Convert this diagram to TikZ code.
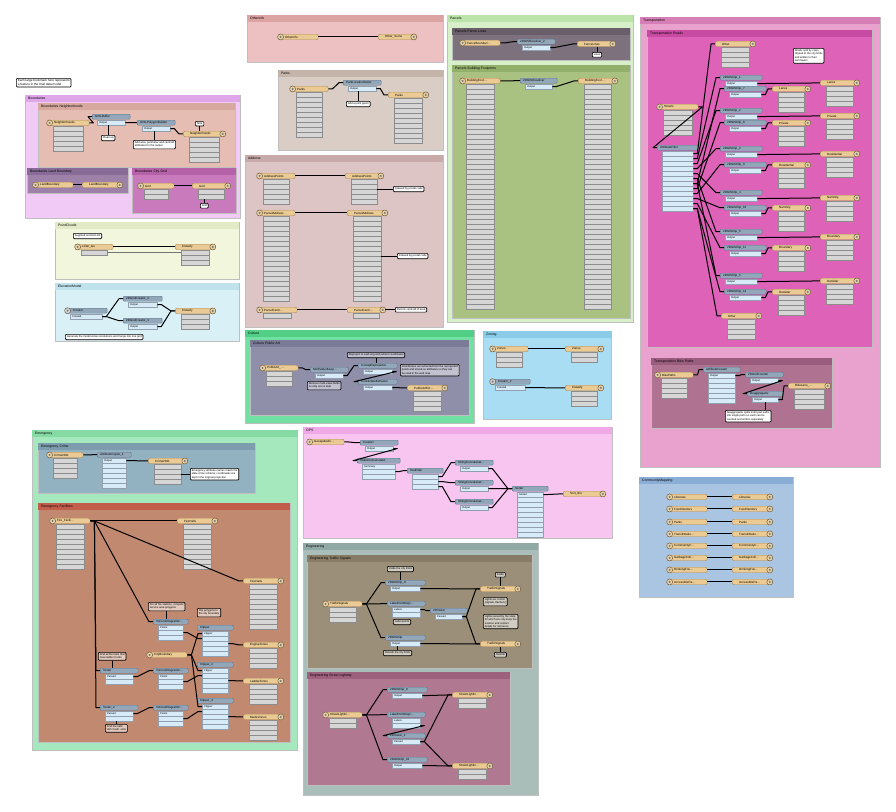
\documentclass[tikz,border=0pt]{standalone}
\usepackage{fontspec}
\setmainfont{Liberation Sans}
\usetikzlibrary{positioning,calc}

% canvas parts
\definecolor{fthead}{HTML}{EBCB93}
\definecolor{ftedge}{HTML}{A98757}
\definecolor{ftcapfill}{HTML}{E6D2A8}
\definecolor{xfhead}{HTML}{93A7BA}
\definecolor{xfedge}{HTML}{62768C}
\definecolor{portfill}{HTML}{D6EAF8}
\definecolor{attrfill}{HTML}{D6D6D6}
% bookmark colours
\definecolor{bndFill}{HTML}{F1CAF5}  \definecolor{bndHead}{HTML}{E0A6EA}
\definecolor{nbhFill}{HTML}{E5BDB3}  \definecolor{nbhHead}{HTML}{D6A89E}
\definecolor{landFill}{HTML}{9D81A9} \definecolor{landHead}{HTML}{886B97}
\definecolor{gridFill}{HTML}{C97ABD} \definecolor{gridHead}{HTML}{B562A8}
\definecolor{pcFill}{HTML}{F2F6DD}   \definecolor{pcHead}{HTML}{E3EBC6}
\definecolor{elevFill}{HTML}{D9F0F6} \definecolor{elevHead}{HTML}{BFE2EC}
\definecolor{othFill}{HTML}{EDC1C1}  \definecolor{othHead}{HTML}{DCA3A3}
\definecolor{prkFill}{HTML}{D9CDC5}  \definecolor{prkHead}{HTML}{C5B4A9}
\definecolor{adrFill}{HTML}{DDC5C5}  \definecolor{adrHead}{HTML}{C9AAAA}
\definecolor{parFill}{HTML}{D7F0C9}  \definecolor{parHead}{HTML}{BCE3A9}
\definecolor{fenFill}{HTML}{7D717D}  \definecolor{fenHead}{HTML}{6A5E6B}
\definecolor{bldFill}{HTML}{A9C181}  \definecolor{bldHead}{HTML}{93AF6C}
\definecolor{trnFill}{HTML}{E9A2CD}  \definecolor{trnHead}{HTML}{D67FB6}
\definecolor{rdFill}{HTML}{DF62B9}   \definecolor{rdHead}{HTML}{C84BA3}
\definecolor{bkFill}{HTML}{B07291}   \definecolor{bkHead}{HTML}{9B5D7E}
\definecolor{culFill}{HTML}{72E0A2}  \definecolor{culHead}{HTML}{52CF87}
\definecolor{artFill}{HTML}{8F8FA9}  \definecolor{artHead}{HTML}{7B7B97}
\definecolor{zonFill}{HTML}{A9DDF4}  \definecolor{zonHead}{HTML}{8ACCE7}
\definecolor{emgFill}{HTML}{A6E8BD}  \definecolor{emgHead}{HTML}{86DBA4}
\definecolor{crFill}{HTML}{92B1C1}   \definecolor{crHead}{HTML}{7D9DAF}
\definecolor{facFill}{HTML}{C1896F}  \definecolor{facHead}{HTML}{C45E4C}
\definecolor{opsFill}{HTML}{F8C5F0}  \definecolor{opsHead}{HTML}{EFA9E6}
\definecolor{engFill}{HTML}{A9BDB9}  \definecolor{engHead}{HTML}{91A9A5}
\definecolor{tsFill}{HTML}{9B8F79}   \definecolor{tsHead}{HTML}{887C66}
\definecolor{slFill}{HTML}{B17991}   \definecolor{slHead}{HTML}{9E617D}
\definecolor{cmFill}{HTML}{A9C5E1}   \definecolor{cmHead}{HTML}{89ADD4}

\tikzstyle{bmark} = [
    rectangle,
    draw=black!25,
    line width=0.4pt,
    inner sep=0pt,
    anchor=north west
]
\tikzstyle{bmhead} = [
    rectangle,
    inner ysep=0pt,
    inner xsep=3pt,
    minimum height=7pt,
    anchor=north west,
    align=left,
    font=\fontsize{3.4}{4}\selectfont
]
\tikzstyle{ftbar} = [
    rectangle,
    rounded corners=2pt,
    draw=ftedge,
    fill=fthead,
    line width=0.4pt,
    minimum height=5.5pt,
    inner ysep=0pt,
    inner xsep=7pt,
    anchor=north west,
    align=left,
    font=\fontsize{3}{3.4}\selectfont
]
\tikzstyle{ftcap} = [
    circle,
    draw=ftedge!70!black,
    fill=ftcapfill,
    line width=0.5pt,
    minimum size=6pt,
    inner sep=0pt,
    path picture={\fill[black!55] (path picture bounding box.center) circle (1.1pt);}
]
\tikzstyle{xfbar} = [
    rectangle,
    rounded corners=1pt,
    draw=xfedge,
    fill=xfhead,
    line width=0.4pt,
    minimum height=5pt,
    inner ysep=0pt,
    inner xsep=3pt,
    anchor=north west,
    align=left,
    font=\fontsize{3}{3.4}\selectfont
]
\tikzstyle{attrbox} = [
    rectangle,
    draw=black!45,
    fill=attrfill,
    line width=0.3pt,
    minimum height=5pt,
    inner sep=0pt,
    anchor=north west
]
\tikzstyle{portbox} = [
    rectangle,
    draw=xfedge!70,
    fill=portfill,
    line width=0.3pt,
    minimum height=5pt,
    inner ysep=0pt,
    inner xsep=2pt,
    anchor=north west,
    align=left,
    font=\fontsize{2.6}{3}\selectfont
]
\tikzstyle{note} = [
    rectangle,
    rounded corners=1pt,
    draw=black,
    line width=0.7pt,
    fill=white,
    inner sep=1.4pt,
    align=left,
    anchor=north west,
    font=\fontsize{2.7}{3.2}\selectfont
]
\tikzstyle{noteline} = [
    line width=0.7pt,
    draw=black
]
\tikzstyle{wire} = [
    line width=1pt,
    draw=black,
    line join=round,
    to path={-- ++(4,0) -- ([xshift=-4pt]\tikztotarget) -- (\tikztotarget)}
]

% bookmark: name, x, y, width, height, label, fill, head
\newcommand{\fmemark}[8]{%
  \pgfmathsetlengthmacro\bmw{#4-6}
  \node[bmark, fill=#7, minimum width=#4pt, minimum height=#5pt] (#1) at (#2,#3) {};
  \node[bmhead, fill=#8, text width=\bmw] (#1-head) at (#1.north west) {#6};
}
% attribute rows under a feature type: name, width, rows
\newcommand{\ftattrs}[3]{%
  \ifnum#3>0
    \pgfmathsetlengthmacro\attrw{#2-12}
    \foreach \k in {1,...,#3}
      \node[attrbox, minimum width=\attrw] (#1-a\k) at ([shift={(6,{5*(\k-1)})}]#1.south west) {};
  \fi
}
% reader / writer feature types: [width]{name}{x,y}{label}{rows}
\newcommand{\ftreader}[5][40]{%
  \pgfmathsetlengthmacro\ftw{#1-14}
  \node[ftbar, text width=\ftw] (#2) at (#3) {#4};
  \node[ftcap] (#2-cap) at ([xshift=2.6pt]#2.west) {};
  \ftattrs{#2}{#1}{#5}
}
\newcommand{\ftwriter}[5][40]{%
  \pgfmathsetlengthmacro\ftw{#1-14}
  \node[ftbar, text width=\ftw] (#2) at (#3) {#4};
  \node[ftcap] (#2-cap) at ([xshift=-2.6pt]#2.east) {};
  \ftattrs{#2}{#1}{#5}
}
% transformer: [width]{name}{x,y}{label}{ports}{first port}
\newcommand{\xformer}[6][38]{%
  \pgfmathsetlengthmacro\xfw{#1-6}
  \pgfmathsetlengthmacro\ptw{#1-14}
  \node[xfbar, text width=\xfw] (#2) at (#3) {#4};
  \foreach \k in {1,...,#5}
    \node[portbox, text width=\ptw] (#2-p\k) at ([shift={(5,{5*(\k-1)+0.5})}]#2.south west)
      {\ifnum\k=1 #6\fi};
}

\begin{document}
\begin{tikzpicture}[x=1pt, y=-1pt]
\fill[white] (0,0) rectangle (896,811);
\useasboundingbox (0,0) rectangle (896,811);

\node[note, font=\fontsize{3.1}{3.6}\selectfont] (schemaNote) at (16,78) {Each large bookmark here represents\\a feature in the final data model};

% Boundaries
\fmemark{bnd}{25}{95}{215}{123}{Boundaries}{bndFill}{bndHead}
\fmemark{bndNbh}{38}{103}{197}{64}{Boundaries Neighborhoods}{nbhFill}{nbhHead}
\fmemark{bndLand}{27}{168}{101}{25}{Boundaries Land Boundary}{landFill}{landHead}
\fmemark{bndGrid}{132}{168}{104}{45}{Boundaries City Grid}{gridFill}{gridHead}
\ftreader[42]{nbhIn}{47,120}{Neighborhoods}{5}
\xformer[38]{nbhBuf}{92,114}{GISLBuffer}{1}{Output}
\xformer[38]{nbhPoly}{137,120}{GISLPolygonBuilder}{1}{Output}
\ftwriter[42]{nbhOut}{183,131}{Neighborhoods}{5}
\node[note] (nbhNote1) at (101,135) {Clean up};
\node[note] (nbhNote2) at (133,140) {Add area, perimeter and centroid\\attributes for the output};
\node[note] (nbhNote3) at (195,121) {Note};
\draw[wire] (nbhIn.east) to (nbhBuf.west);
\draw[wire] (nbhBuf-p1.east) to (nbhPoly.west);
\draw[wire] (nbhPoly-p1.east) to (nbhOut.west);
\draw[noteline] (nbhNote1.north) -- (nbhNote1.north |- nbhBuf-p1.south);
\draw[noteline] (nbhNote2.north) -- (nbhNote2.north |- nbhPoly-p1.south);
\draw[noteline] (nbhNote3.south) -- (nbhNote3.south |- nbhOut.north);
\ftreader[40]{landIn}{33,182}{LandBoundary}{0}
\ftwriter[40]{landOut}{82,182}{LandBoundary}{0}
\draw[wire] (landIn.east) to (landOut.west);
\ftreader[36]{gridIn}{138,183}{Grid}{2}
\ftwriter[38]{gridOut}{192,183}{Grid}{2}
\node[note] (gridNote) at (200,203) {Grid};
\draw[wire] (gridIn.east) to (gridOut.west);
\draw[noteline] (gridNote.north) -- (gridNote.north |- gridOut-a2.south);

% PointClouds
\fmemark{pc}{55}{222}{184}{57}{PointClouds}{pcFill}{pcHead}
\node[note] (pcNote) at (73,233) {Supplied as tiled LAS};
\ftreader[38]{pcIn}{75,244}{LiDar\_las}{1}
\ftwriter[40]{pcOut}{175,244}{Classify}{3}
\draw[wire] (pcIn.east) to (pcOut.west);
\draw[wire, line width=0.5pt, black!55] (pcIn-a1.east) to (pcOut-a1.west);

% ElevationModel
\fmemark{elev}{55}{283}{184}{58}{ElevationModel}{elevFill}{elevHead}
\xformer[42]{elevCreate}{65,308}{\hspace*{5pt}Creator}{1}{Created}
\node[ftcap, fill=xfhead!45] (elevCreate-cap) at ([xshift=2.6pt]elevCreate.west) {};
\xformer[39]{elevGrid}{123,296}{2DGridCreator\_2}{1}{Output}
\xformer[39]{elevGridB}{123,318}{2DGridCreator\_3}{1}{Output}
\ftwriter[40]{elevOut}{175,308}{Classify}{3}
\node[note] (elevNote) at (65,334) {Generate the model at two resolutions and merge into one grid};
\draw[wire] (elevCreate-p1.east) to (elevGrid.west);
\draw[wire] (elevCreate-p1.east) to (elevGridB.west);
\draw[wire] (elevGrid-p1.east) to (elevOut.west);
\draw[wire] (elevGridB-p1.east) to (elevOut.west);

% OtherInfo
\fmemark{oth}{247}{15}{196}{47}{OtherInfo}{othFill}{othHead}
\ftreader[40]{othIn}{278,34}{OtherInfo}{0}
\ftwriter[38]{othOut}{378,34}{Other\_Some}{0}
\draw[wire] (othIn.east) to (othOut.west);

% Parks
\fmemark{prk}{278}{70}{165}{80}{Parks}{prkFill}{prkHead}
\ftreader[38]{prkIn}{290,86}{Parks}{9}
\xformer[38]{prkSet}{343,80}{ParkLocationSetter}{1}{Output}
\ftwriter[40]{prkOut}{388,92}{Parks}{9}
\node[note] (prkNote) at (346,101) {Add a point geom};
\draw[wire] (prkIn.east) to (prkSet.west);
\draw[wire] (prkSet-p1.east) to (prkOut.west);
\draw[noteline] (prkNote.north) -- (prkNote.north |- prkSet-p1.south);

% Address
\fmemark{adr}{245}{155}{198}{172}{Address}{adrFill}{adrHead}
\ftreader[38]{adrPtIn}{257,173}{AddressPoints}{5}
\ftwriter[38]{adrPtOut}{345,173}{AddressPoints}{5}
\node[note] (adrNote1) at (393,186) {Indexed by postal code};
\ftreader[38]{adrPcIn}{257,210}{ParcelAddress}{17}
\ftwriter[40]{adrPcOut}{347,210}{ParcelAddress}{17}
\node[note] (adrNote2) at (397,253) {Indexed by postal code};
\ftreader[40]{adrCnIn}{257,307}{ParcelCentr\ldots}{1}
\ftwriter[38]{adrCnOut}{347,307}{ParcelCentr\ldots}{1}
\node[note] (adrNote3) at (395,307) {Parcels centroid of area};
\draw[wire] (adrPtIn.east) to (adrPtOut.west);
\draw[wire] (adrPcIn.east) to (adrPcOut.west);
\draw[wire] (adrCnIn.east) to (adrCnOut.west);
\draw[noteline] (adrNote1.west) -- (adrNote1.west -| adrPtOut-a3.east);
\draw[noteline] (adrNote2.west) -- (adrNote2.west -| adrPcOut-a9.east);
\draw[noteline] (adrNote3.west) -- (adrNote3.west -| adrCnOut.east);

% Parcels
\fmemark{par}{447}{15}{186}{307}{Parcels}{parFill}{parHead}
\fmemark{parFen}{452}{28}{178}{32}{Parcels Fence Lines}{fenFill}{fenHead}
\fmemark{parBld}{452}{65}{178}{253}{Parcels Building Footprints}{bldFill}{bldHead}
\ftreader[40]{fenIn}{460,40}{FenceBoundari\ldots}{0}
\xformer[38]{fenDis}{517,39}{2DGISDissolver\_2}{1}{Output}
\ftwriter[38]{fenOut}{577,41}{FenceLines}{0}
\node[note] (fenNote) at (592,52) {Lines};
\draw[wire] (fenIn.east) to (fenDis.west);
\draw[wire] (fenDis-p1.east) to (fenOut.west);
\draw[noteline] (fenNote.north) -- (fenNote.north |- fenOut.south);
\ftreader[40]{bldIn}{460,78}{BuildingFoot\ldots}{45}
\xformer[37]{bldDis}{520,78}{2DGISDissolver}{1}{Output}
\ftwriter[39]{bldOut}{578,78}{BuildingFoot\ldots}{45}
\draw[wire] (bldIn.east) to (bldDis.west);
\draw[wire] (bldDis-p1.east) to (bldOut.west);

% Transportation
\fmemark{trn}{640}{17}{240}{450}{Transportation}{trnFill}{trnHead}
\fmemark{trnRd}{647}{30}{225}{317}{Transportation Roads}{rdFill}{rdHead}
\fmemark{trnBk}{651}{358}{181}{70}{Transportation Bike Paths}{bkFill}{bkHead}
\ftwriter[40]{rdOtherA}{715,41}{Other}{4}
\node[note] (rdNote) at (793,48) {Roads split by class,\\clipped to the city limits\\and written to their\\own layers};
\ftreader[41]{rdIn}{657,104}{Streets}{5}
\xformer[41]{rdFilter}{657,145}{AttributeFilter}{12}{}
\ftwriter[40]{rdOtherB}{721,313}{Other}{4}
\draw[wire] (rdIn.east) to (rdFilter.west);
\draw[wire] (rdFilter-p1.east) to (rdOtherA.west);
\draw[wire] (rdFilter-p12.east) to (rdOtherB.west);
\foreach \i/\ta/\tb/\lab in {1/75/86/Lanes, 2/108/120/Private, 3/146/162/Residential,
    4/190/205/NamCity, 5/229/245/Boundary, 6/273/289/Outsider} {
  \pgfmathtruncatemacro\j{\i+6}
  \pgfmathtruncatemacro\pa{\i+1}
  \xformer[42]{rdClipA\i}{720,\ta}{2DGISClip\_\i}{1}{Output}
  \xformer[42]{rdClipB\i}{724,\tb}{2DGISClip\_\j}{1}{Output}
  \ftwriter[39]{rdOutA\i}{820,\ta+5}{\lab}{4}
  \ftwriter[38]{rdOutB\i}{772,\tb}{\lab}{4}
  \draw[wire] (rdFilter-p\pa.east) to (rdClipA\i.west);
  \draw[wire] (rdFilter-p\j.east) to (rdClipB\i.west);
  \draw[wire] (rdClipA\i-p1.east) to (rdOutA\i.west);
  \draw[wire] (rdClipB\i-p1.east) to (rdOutB\i.west);
}
\ftreader[38]{bkIn}{655,372}{BikePaths}{4}
\xformer[37]{bkCreate}{703,367}{AttributeCreator}{6}{Output}
\xformer[38]{bkCount}{745,372}{2DGridCounter}{1}{Output}
\xformer[36]{bkDeagg}{747,391}{Deaggregator}{1}{Output}
\ftwriter[42]{bkOut}{788,383}{BikeLane\_\ldots}{4}
\node[note] (bkNote) at (725,410) {Deaggregator splits multi-part paths\\into single parts so each can be\\counted and written separately};
\draw[wire] (bkIn.east) to (bkCreate.west);
\draw[wire] (bkCreate-p1.east) to (bkCount.west);
\draw[wire] (bkCount-p1.east) to (bkDeagg.west);
\draw[wire] (bkDeagg-p1.east) to (bkOut.west);
\draw[noteline] (bkNote.north -| bkDeagg-p1.south) -- (bkDeagg-p1.south);

% Culture
\fmemark{cul}{245}{330}{229}{93}{Culture}{culFill}{culHead}
\fmemark{culArt}{250}{340}{219}{75}{Culture Public Art}{artFill}{artHead}
\ftreader[38]{artIn}{260,365}{PublicArt\_\ldots}{3}
\xformer[38]{artKeep}{310,367}{MultiValueKeep\ldots}{1}{Output}
\xformer[39]{artRepro}{358,363}{CsmapReprojector}{1}{Output}
\xformer[39]{artCoord}{358,379}{CoordinateExtractor}{1}{Output}
\ftwriter[40]{artOut}{407,385}{PublicArtExt\ldots}{4}
\node[note, fill=artFill!55!white] (artNote1) at (347,352) {Reproject to Lat/Long and extract coordinates};
\node[note, fill=artFill!55!white] (artNote2) at (307,381) {Remove multi-value fields\\so only one is kept};
\node[note, fill=artFill!55!white] (artNote3) at (400,364) {Coordinates are extracted from the reprojected\\points and stored as attributes so they can\\be used in the web map};
\draw[wire] (artIn.east) to (artKeep.west);
\draw[wire] (artKeep-p1.east) to (artRepro.west);
\draw[wire] (artRepro-p1.east) to (artCoord.west);
\draw[wire] (artCoord-p1.east) to (artOut.west);
\draw[noteline] (artNote1.south) -- (artNote1.south |- artRepro.north);

% Zoning
\fmemark{zon}{483}{331}{128}{88}{Zoning}{zonFill}{zonHead}
\ftreader[38]{zonIn}{490,346}{Zones}{3}
\ftwriter[38]{zonOut}{565,346}{Zones}{2}
\xformer[40]{zonCreate}{490,379}{\hspace*{5pt}Creator\_2}{1}{Created}
\node[ftcap, fill=xfhead!45] (zonCreate-cap) at ([xshift=2.6pt]zonCreate.west) {};
\ftwriter[38]{zonCls}{565,385}{Classify}{3}
\draw[wire] (zonIn.east) to (zonOut.west);
\draw[wire] (zonCreate-p1.east) to (zonCls.west);

% Emergency
\fmemark{emg}{32}{430}{265}{320}{Emergency}{emgFill}{emgHead}
\fmemark{emgCr}{38}{443}{217}{50}{Emergency Crime}{crFill}{crHead}
\fmemark{emgFac}{38}{503}{252}{239}{Emergency Facilities}{facFill}{facHead}
\ftreader[36]{crIn}{47,452}{Crime2021}{4}
\xformer[34]{crCopy}{97,452}{AttributeCopier\_2}{6}{Output}
\ftwriter[39]{crOut}{148,458}{Crime2021}{4}
\node[note] (crNote) at (190,468) {Emergency attribute names match the\\state crime schema; coordinates are\\kept in the original projection};
\draw[wire] (crIn.east) to (crCopy.west);
\draw[wire] (crCopy-p1.east) to (crOut.west);
\draw[noteline] (crNote.west) -- (crNote.west -| crOut-a3.east);
\ftreader[40]{facIn}{50,518}{Fire\_Facili\ldots}{9}
\ftwriter[40]{facOutA}{177,518}{FireHalls}{9}
\ftwriter[40]{facOutB}{243,578}{FireHalls}{9}
\ftreader[40]{facArea}{147,652}{CityBoundary}{0}
\xformer[38]{facTest}{100,668}{Tester}{2}{Passed}
\xformer[38]{facTestB}{100,705}{Tester\_2}{2}{Passed}
\foreach \i/\y/\cy/\wy/\clab/\wlab in {1/619/625/642/Clipper/EngineZones,
    2/668/662/678/Clipper\_2/LadderZones, 3/705/698/714/Clipper\_3/MedicZones} {
  \xformer[35]{facNd\i}{153,\y}{VoronoiDiagramm\ldots}{3}{Points}
  \xformer[36]{facClip\i}{197,\cy}{\clab}{5}{Clipper}
  \ftwriter[40]{facOutC\i}{243,\wy}{\wlab}{4}
  \draw[wire] (facNd\i-p2.east) to (facClip\i-p2.west);
  \draw[wire] (facArea.east) to (facClip\i-p1.west);
  \draw[wire] (facClip\i-p3.east) to (facOutC\i.west);
}
\node[note, fill=facFill!45!white] (facNote1) at (148,602) {For all fire stations, compute\\service area polygons};
\node[note, fill=facFill!45!white] (facNote2) at (197,608) {Clip polygons to\\the city boundary};
\node[note, fill=facFill!45!white] (facNote3) at (98,652) {Find all fire halls that\\have ladder trucks};
\node[note, fill=facFill!45!white] (facNote4) at (105,724) {Find the halls\\with medic units};
\draw[wire] (facIn.east) to (facOutA.west);
\draw[wire] (facIn.east) to (facOutB.west);
\draw[wire] (facIn.east) to (facNd1.west);
\draw[wire] (facIn.east) to (facTest.west);
\draw[wire] (facIn.east) to (facTestB.west);
\draw[wire] (facTest-p1.east) to (facNd2.west);
\draw[wire] (facTestB-p1.east) to (facNd3.west);
\draw[noteline] (facNote1.south) -- (facNote1.south |- facNd1.north);
\draw[noteline] (facNote3.south) -- (facNote3.south |- facTest.north);
\draw[noteline] (facNote4.north) -- (facNote4.north |- facTestB-p2.south);

% OPS
\fmemark{ops}{303}{427}{309}{111}{OPS}{opsFill}{opsHead}
\ftreader[37]{opsIn}{307,439}{GeospatialIn\ldots}{0}
\xformer[38]{opsCount}{360,440}{Counter}{1}{Output}
\xformer[43]{opsStats}{357,458}{StatisticsCalculator}{3}{Summary}
\xformer[36]{opsTest}{407,468}{TestFilter}{3}{}
\xformer[36]{opsSort}{512,486}{Sorter}{9}{Sorted}
\ftwriter[42]{opsOut}{563,491}{Sort\_line}{0}
\foreach \i/\y in {1/460, 2/480, 3/499} {
  \xformer[38]{opsCat\i}{455,\y}{StringConcatenat\ldots}{1}{Output}
  \draw[wire] (opsTest-p\i.east) to (opsCat\i.west);
  \draw[wire] (opsCat\i-p1.east) to (opsSort.west);
}
\draw[wire] (opsIn.east) to (opsCount.west);
\draw[wire] (opsCount-p1.east) to (opsStats.west);
\draw[wire] (opsStats-p2.east) to (opsTest.west);
\draw[wire] (opsSort-p1.east) to (opsOut.west);

% Engineering
\fmemark{eng}{303}{543}{235}{252}{Engineering}{engFill}{engHead}
\fmemark{engTs}{307}{555}{225}{113}{Engineering Traffic Signals}{tsFill}{tsHead}
\fmemark{engSl}{307}{672}{203}{113}{Engineering Street Lighting}{slFill}{slHead}
\ftreader[39]{tsIn}{323,601}{TrafficSignals}{3}
\xformer[40]{tsClipA}{385,580}{2DGISClip\_8}{1}{Output}
\xformer[38]{tsLabel}{387,601}{LabelPointRepl\ldots}{2}{Labels}
\xformer[37]{tsTest}{430,608}{2DTester}{1}{Passed}
\xformer[40]{tsClipB}{385,635}{2DGISClip}{1}{Output}
\ftwriter[40]{tsOutA}{480,586}{TrafficSignals}{0}
\ftwriter[40]{tsOutB}{480,641}{TrafficSignals}{0}
\node[note, fill=tsFill!45!white] (tsNote1) at (387,566) {Inside the city limits};
\node[note, fill=tsFill!45!white] (tsNote2) at (495,572) {Inside};
\node[note, fill=tsFill!45!white] (tsNote3) at (483,597) {Lights we control\\(signals, flashers)};
\node[note, fill=tsFill!45!white] (tsNote4) at (483,614) {Lights owned by the state,\\for which we only keep the\\location and contact\\details for reference};
\node[note, fill=tsFill!45!white] (tsNote5) at (393,619) {Label points};
\node[note, fill=tsFill!45!white] (tsNote6) at (383,650) {Outside the city limits};
\node[note, fill=tsFill!45!white] (tsNote7) at (494,652) {Outside};
\draw[wire] (tsIn.east) to (tsClipA.west);
\draw[wire] (tsIn.east) to (tsLabel.west);
\draw[wire] (tsIn.east) to (tsClipB.west);
\draw[wire] (tsClipA-p1.east) to (tsOutA.west);
\draw[wire] (tsClipB-p1.east) to (tsOutB.west);
\draw[wire] (tsLabel-p1.east) to (tsTest.west);
\draw[wire] (tsTest-p1.east) to (tsOutA.west);
\draw[wire] (tsTest-p1.east) to (tsOutB.west);
\draw[noteline] (tsNote1.south) -- (tsNote1.south |- tsClipA.north);
\draw[noteline] (tsNote2.south) -- (tsNote2.south |- tsOutA.north);
\draw[noteline] (tsNote6.north) -- (tsNote6.north |- tsClipB-p1.south);
\draw[noteline] (tsNote7.north) -- (tsNote7.north |- tsOutB.south);
\ftreader[39]{slIn}{323,712}{StreetLightin\ldots}{2}
\xformer[40]{slClipA}{387,687}{2DGISClip\_9}{1}{Output}
\xformer[38]{slLabel}{387,712}{LabelPointRepl\ldots}{2}{Labels}
\xformer[38]{slTest}{387,733}{2DTester\_2}{1}{Passed}
\xformer[40]{slClipB}{387,757}{2DGISClip\_10}{1}{Output}
\ftwriter[40]{slOutA}{452,692}{StreetLightin\ldots}{2}
\ftwriter[40]{slOutB}{452,763}{StreetLightin\ldots}{2}
\draw[wire] (slIn.east) to (slClipA.west);
\draw[wire] (slIn.east) to (slLabel.west);
\draw[wire] (slIn.east) to (slClipB.west);
\draw[wire] (slLabel-p2.east) to (slTest.west);
\draw[wire] (slClipA-p1.east) to (slOutA.west);
\draw[wire] (slTest-p1.east) to (slOutA.west);
\draw[wire] (slTest-p1.east) to (slOutB.west);
\draw[wire] (slClipB-p1.east) to (slOutB.west);

% Community Mapping
\fmemark{cm}{639}{477}{154}{120}{CommunityMapping}{cmFill}{cmHead}
\foreach \i/\y/\lab in {1/494/Libraries, 2/506/FoodVendors, 3/519/Parks,
    4/531/TransitStatio\ldots, 5/543/CommunityC\ldots, 6/555/GarbageColl\ldots,
    7/567/DrinkingFou\ldots, 8/579/AccessiblePa\ldots} {
  \ftreader[40]{cmIn\i}{667,\y}{\lab}{0}
  \ftwriter[40]{cmOut\i}{732,\y}{\lab}{0}
  \draw[wire] (cmIn\i.east) to (cmOut\i.west);
}
\end{tikzpicture}
\end{document}
